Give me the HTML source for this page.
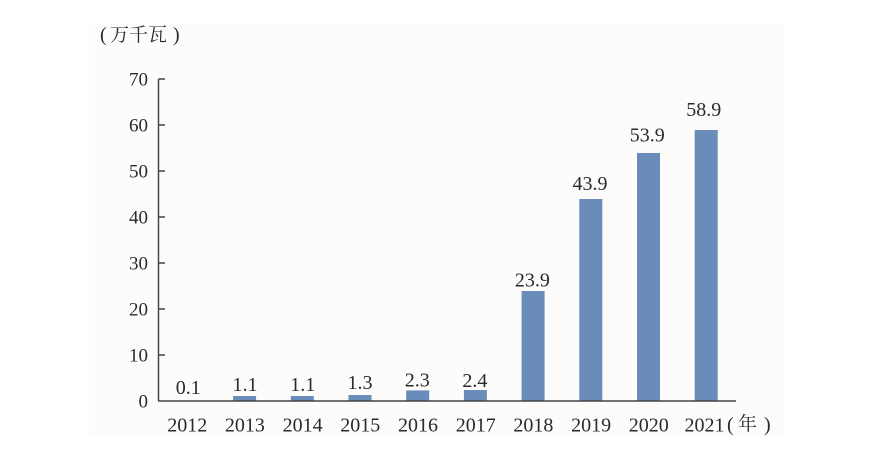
<!DOCTYPE html>
<html>
<head>
<meta charset="utf-8">
<style>
html,body{margin:0;padding:0;background:#ffffff;}
svg{display:block;}
text{font-family:"Liberation Serif","Noto Serif CJK SC",serif;fill:#2a2a2a;}
.cjk{font-family:"Noto Serif CJK SC","Liberation Serif",serif;}
</style>
</head>
<body>
<svg width="892" height="449" viewBox="0 0 892 449" xmlns="http://www.w3.org/2000/svg">
  <rect x="0" y="0" width="892" height="449" fill="#ffffff"/>
  <rect x="89" y="22.5" width="696" height="415.5" fill="#fdfcfa"/>

  <!-- unit label -->
  <text x="100" y="41" font-size="20" font-family="Liberation Serif, serif">(</text>
  <text x="110" y="41" font-size="19" class="cjk">万</text>
  <text x="129" y="41" font-size="19" class="cjk">千</text>
  <text x="148" y="41" font-size="19" class="cjk">瓦</text>
  <text x="173" y="41" font-size="20" font-family="Liberation Serif, serif">)</text>

  <!-- bars -->
  <g fill="#6a8cbb">
    <rect x="175.4" y="400.5" width="23" height="0.5"/>
    <rect x="233.1" y="396" width="23" height="5"/>
    <rect x="290.8" y="396" width="23" height="5"/>
    <rect x="348.5" y="395" width="23" height="6"/>
    <rect x="406.2" y="390.4" width="23" height="10.6"/>
    <rect x="463.9" y="390" width="23" height="11"/>
    <rect x="521.6" y="291" width="23" height="110"/>
    <rect x="579.3" y="199" width="23" height="202"/>
    <rect x="637.0" y="153" width="23" height="248"/>
    <rect x="694.7" y="130" width="23" height="271"/>
  </g>

  <!-- axes -->
  <g stroke="#444" stroke-width="1.5" fill="none">
    <line x1="158.5" y1="79" x2="158.5" y2="401"/>
    <line x1="158" y1="401" x2="736" y2="401"/>
    <line x1="158.5" y1="79" x2="165" y2="79"/>
    <line x1="158.5" y1="125" x2="165" y2="125"/>
    <line x1="158.5" y1="171" x2="165" y2="171"/>
    <line x1="158.5" y1="217" x2="165" y2="217"/>
    <line x1="158.5" y1="263" x2="165" y2="263"/>
    <line x1="158.5" y1="309" x2="165" y2="309"/>
    <line x1="158.5" y1="355" x2="165" y2="355"/>
  </g>

  <!-- y tick labels -->
  <g font-size="19" text-anchor="end">
    <text x="148" y="85.5">70</text>
    <text x="148" y="131.5">60</text>
    <text x="148" y="177.5">50</text>
    <text x="148" y="223.5">40</text>
    <text x="148" y="269.5">30</text>
    <text x="148" y="315.5">20</text>
    <text x="148" y="361.5">10</text>
    <text x="148" y="407.5">0</text>
  </g>

  <!-- value labels -->
  <g font-size="20" text-anchor="middle">
    <text x="188.3" y="394">0.1</text>
    <text x="245.0" y="391">1.1</text>
    <text x="302.7" y="391">1.1</text>
    <text x="360.0" y="389">1.3</text>
    <text x="417.2" y="386.7">2.3</text>
    <text x="474.9" y="387">2.4</text>
    <text x="532.4" y="286.7">23.9</text>
    <text x="590.0" y="190">43.9</text>
    <text x="647.2" y="141.7">53.9</text>
    <text x="703.8" y="116">58.9</text>
  </g>

  <!-- x labels -->
  <g font-size="20" text-anchor="middle">
    <text x="187.2" y="431.5">2012</text>
    <text x="244.9" y="431.5">2013</text>
    <text x="302.6" y="431.5">2014</text>
    <text x="360.3" y="431.5">2015</text>
    <text x="418.0" y="431.5">2016</text>
    <text x="475.7" y="431.5">2017</text>
    <text x="533.4" y="431.5">2018</text>
    <text x="591.1" y="431.5">2019</text>
    <text x="648.8" y="431.5">2020</text>
    <text x="704.5" y="431.5">2021</text>
  </g>
  <text x="727" y="431" font-size="20" font-family="Liberation Serif, serif">(</text>
  <text x="738" y="430" font-size="19" class="cjk">年</text>
  <text x="764" y="431" font-size="20" font-family="Liberation Serif, serif">)</text>
</svg>
</body>
</html>
